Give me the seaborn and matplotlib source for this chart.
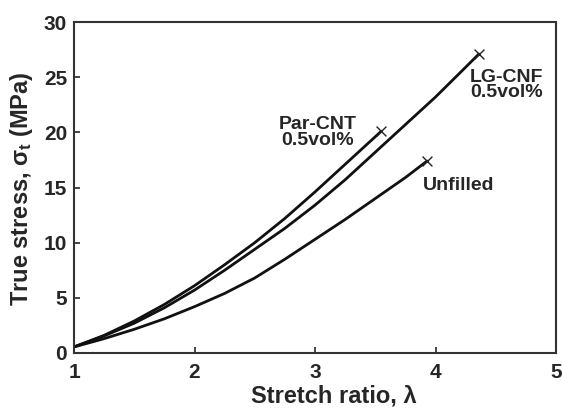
import numpy as np
import pandas as pd
import matplotlib
matplotlib.use("Agg")
import matplotlib.pyplot as plt
import seaborn as sns

# ---- data ----
lam_par = [1.0, 1.25, 1.5, 1.75, 2.0, 2.25, 2.5, 2.75, 3.0, 3.25, 3.5, 3.55]
sig_par = [0.55, 1.6, 2.9, 4.4, 6.1, 8.0, 10.0, 12.2, 14.6, 17.1, 19.6, 20.1]

lam_lg = [1.0, 1.25, 1.5, 1.75, 2.0, 2.25, 2.5, 2.75, 3.0, 3.25, 3.5, 3.75, 4.0, 4.25, 4.36]
sig_lg = [0.55, 1.55, 2.7, 4.1, 5.7, 7.5, 9.4, 11.3, 13.4, 15.7, 18.2, 20.7, 23.2, 25.9, 27.1]

lam_un = [1.0, 1.25, 1.5, 1.75, 2.0, 2.25, 2.5, 2.75, 3.0, 3.25, 3.5, 3.75, 3.93]
sig_un = [0.55, 1.3, 2.15, 3.1, 4.2, 5.4, 6.8, 8.5, 10.3, 12.1, 14.0, 15.9, 17.4]

labels = ["Par-CNT\n0.5vol%", "LG-CNF\n0.5vol%", "Unfilled"]
label_pos = [(3.02, 20.0), (4.59, 24.3), (4.195, 15.2)]

xticks = [1, 2, 3, 4, 5]
yticks = [0, 5, 10, 15, 20, 25, 30]

df = pd.concat([
    pd.DataFrame({"lam": lam_par, "sig": sig_par, "sample": "Par"}),
    pd.DataFrame({"lam": lam_lg, "sig": sig_lg, "sample": "LG"}),
    pd.DataFrame({"lam": lam_un, "sig": sig_un, "sample": "Un"}),
])
ends = df.groupby("sample", sort=False).tail(1)

sns.set_style("ticks")
plt.rcParams["font.family"] = ["Liberation Sans", "DejaVu Sans"]
plt.rcParams["font.weight"] = "bold"
plt.rcParams["mathtext.fontset"] = "custom"
plt.rcParams["mathtext.rm"] = "Liberation Sans:bold"
plt.rcParams["mathtext.it"] = "Liberation Sans:bold"
plt.rcParams["mathtext.bf"] = "Liberation Sans:bold"

fig = plt.figure(figsize=(5.62, 4.08), dpi=100)
ax = fig.add_axes([74/562, 55/408, 482/562, 331/408])

sns.lineplot(data=df, x="lam", y="sig", hue="sample", palette=["#111111"]*3,
             linewidth=2.0, legend=False, ax=ax, sort=False, estimator=None)
sns.scatterplot(data=ends, x="lam", y="sig", marker="x", color="#222222",
                s=50, linewidth=1.0, ax=ax, legend=False, zorder=5)

for t, (x, y) in zip(labels, label_pos):
    ax.text(x, y, t, ha="center", va="center", fontsize=14, fontweight="bold",
            linespacing=0.9)

ax.set_xlim(1, 5)
ax.set_ylim(0, 30)
ax.set_xticks(xticks)
ax.set_yticks(yticks)
ax.tick_params(axis="x", pad=7)
ax.tick_params(direction="in", length=4, width=1.2, labelsize=15,
               top=False, right=False)
ax.tick_params(axis="y", pad=5)
for lab in ax.get_xticklabels() + ax.get_yticklabels():
    lab.set_fontweight("bold")
for sp in ax.spines.values():
    sp.set_linewidth(1.5)
    sp.set_color("#333333")

ax.set_xlabel("Stretch ratio, λ", fontsize=17, fontweight="bold")
ax.xaxis.set_label_coords(0.539, -0.131)
ax.xaxis.label.set_va("center")
ax.set_ylabel(r"True stress, $\sigma_t$ (MPa)", fontsize=17, fontweight="bold")
ax.yaxis.set_label_coords(-0.108, 0.497)
ax.yaxis.label.set_va("center")

fig.savefig("out.png", dpi=100)
